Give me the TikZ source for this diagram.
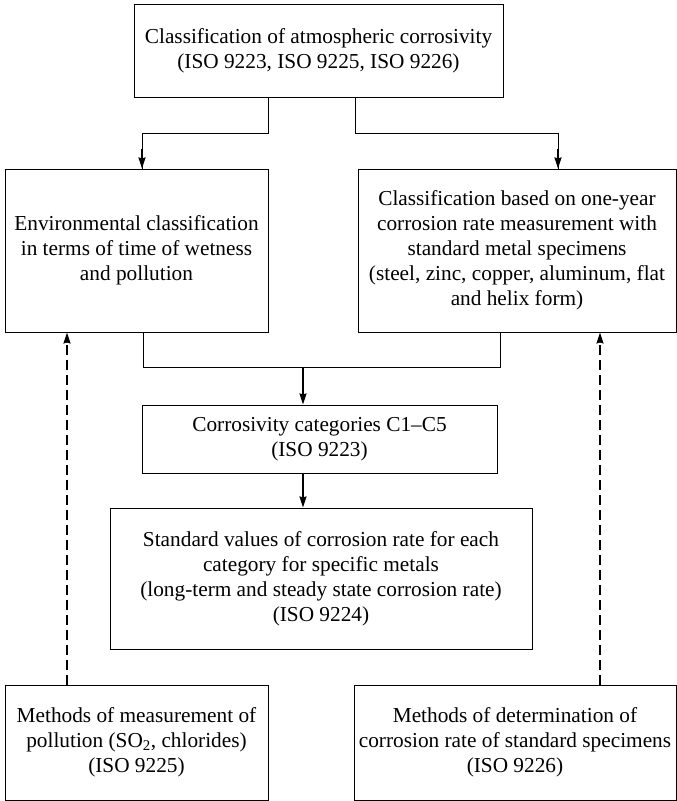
\documentclass[tikz,border=0pt]{standalone}
\usepackage{fontspec}
\setmainfont{Liberation Serif}
\usetikzlibrary{arrows.meta,positioning}

\begin{document}
\begin{tikzpicture}
            [
            x=1pt, y=-1pt,
            box/.style={draw, line width=1pt, align=center, inner sep=0pt,
                font=\fontsize{21.3}{25}\selectfont},
            link/.style={line width=1pt},
            flow/.style={line width=1.8pt, -{Stealth[length=11pt,width=7pt,inset=1pt]}},
            feed/.style={line width=1.4pt, dash pattern=on 10pt off 5pt,
                -{Stealth[length=11pt,width=7pt,inset=1pt]}}
            ]
            \useasboundingbox (0,0) rectangle (677,801);

            \node (top) [box, minimum width=369pt, minimum height=93pt] at (318.5,50.5)
                {Classification of atmospheric corrosivity\\(ISO 9223, ISO 9225, ISO 9226)};
            \node (env) [box, minimum width=263pt, minimum height=163pt] at (136.5,250.5)
                {Environmental classification\\in terms of time of wetness\\and pollution};
            \node (rate) [box, minimum width=318pt, minimum height=163pt] at (517,250.5)
                {Classification based on one-year\\corrosion rate measurement with\\standard metal specimens\\(steel, zinc, copper, aluminum, flat\\and helix form)};
            \node (cat) [box, minimum width=355pt, minimum height=68pt] at (319.5,439)
                {Corrosivity categories C1--C5\\(ISO 9223)};
            \node (values) [box, minimum width=422pt, minimum height=141pt] at (321,578.5)
                {Standard values of corrosion rate for each\\category for specific metals\\(long-term and steady state corrosion rate)\\(ISO 9224)};

            % Methods (bottom row)
            \node (poll) [box, minimum width=263pt, minimum height=115pt] at (136.5,742.5)
                {Methods of measurement of\\pollution (SO\textsubscript{2}, chlorides)\\(ISO 9225)};
            \node (spec) [box, minimum width=322pt, minimum height=115pt] at (515,742.5)
                {Methods of determination of\\corrosion rate of standard specimens\\(ISO 9226)};

            \draw [link] (top.south -| 268,0) -- ++(0,36) -| (env.north -| 142,0);
            \draw [flow] (env.north -| 142,0) ++(0,-20) -- (env.north -| 142,0);
            \draw [link] (top.south -| 355,0) -- ++(0,36) -| (rate.north -| 558,0);
            \draw [flow] (rate.north -| 558,0) ++(0,-20) -- (rate.north -| 558,0);

            \draw [link] (env.south -| 143,0) -- ++(0,35) -| (rate.south -| 500,0);
            \draw [flow] (env.south -| 303,0) ++(0,35) -- (cat.north -| 303,0);
            \draw [flow] (cat.south -| 303,0) -- (values.north -| 303,0);

            \foreach \i/\j/\x in {poll/env/67,spec/rate/600}
            \draw [feed] (\i.north -| \x,0) -- (\j.south -| \x,0);
        \end{tikzpicture}
\end{document}
